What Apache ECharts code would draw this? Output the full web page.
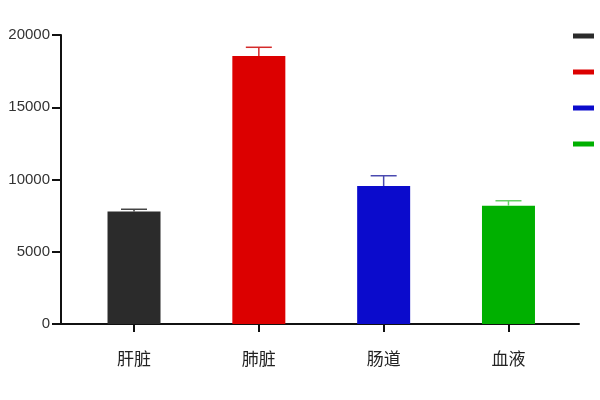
<!DOCTYPE html>
<html>
<head>
<meta charset="utf-8">
<script src="https://cdn.jsdelivr.net/npm/echarts@6/dist/echarts.min.js"></script>
<style>
html, body { margin: 0; padding: 0; background: #fff; }
#chart { width: 600px; height: 400px; }
</style>
</head>
<body>
<div id="chart"></div>
<script>
// 数据
var categories = ['肝脏', '肺脏', '肠道', '血液'];
var means = [7780, 18550, 9550, 8190];
var errors = [160, 600, 710, 340];
var barColors = ['#2b2b2b', '#dc0000', '#0b0bcc', '#00b000'];
var capColors = ['#444444', '#d42a2a', '#4a4ab0', '#66d066'];
var yTicks = [0, 5000, 10000, 15000, 20000];

var myChart = echarts.init(document.getElementById('chart'));

var series = [];
for (var i = 0; i < categories.length; i++)
{
    series.push({
        name: categories[i],
        type: 'bar',
        barWidth: 53,
        barGap: '-100%',
        itemStyle: { color: barColors[i] },
        data: [[i, means[i]]]
    });
}

var errData = [];
for (var j = 0; j < categories.length; j++)
{
    errData.push([j, means[j], means[j] + errors[j]]);
}

series.push({
    name: 'err',
    type: 'custom',
    z: 5,
    data: errData,
    renderItem: function (params, api)
    {
        var x = api.value(0);
        var lo = api.coord([x, api.value(1)]);
        var hi = api.coord([x, api.value(2)]);
        var half = 13;
        var c = capColors[params.dataIndex];
        return {
            type: 'group',
            children: [{
                type: 'line',
                shape: { x1: hi[0], y1: lo[1], x2: hi[0], y2: hi[1] },
                style: { stroke: c, lineWidth: 1.5 }
            }, {
                type: 'line',
                shape: { x1: hi[0] - half, y1: hi[1], x2: hi[0] + half, y2: hi[1] },
                style: { stroke: c, lineWidth: 1.5 }
            }]
        };
    }
});

var option = {
    backgroundColor: '#fff',
    animation: false,
    textStyle: { fontFamily: '"Liberation Sans", "Noto Sans CJK SC", sans-serif' },
    legend: {
        data: categories,
        orient: 'vertical',
        left: 568,
        top: 25,
        icon: 'rect',
        itemWidth: 21,
        itemHeight: 5,
        itemGap: 24,
        // 图例文字在画布右侧之外
        textStyle: { fontSize: 12, color: '#333', padding: [0, 0, 0, 12] }
    },
    grid: {
        left: 61,
        right: 21,
        top: 35,
        bottom: 76
    },
    xAxis: {
        type: 'value',
        min: -0.585,
        max: 3.565,
        splitLine: { show: false },
        axisLine: { show: true, onZero: false, lineStyle: { color: '#111', width: 2 } },
        axisTick: {
            show: true,
            length: 8,
            customValues: [0, 1, 2, 3],
            lineStyle: { color: '#111', width: 2 }
        },
        axisLabel: {
            customValues: [0, 1, 2, 3],
            margin: 26,
            fontSize: 17,
            color: '#222',
            fontFamily: '"Noto Sans CJK SC", sans-serif',
            formatter: function (v)
            {
                return categories[Math.round(v)];
            }
        }
    },
    yAxis: {
        type: 'value',
        min: yTicks[0],
        max: yTicks[yTicks.length - 1],
        interval: 5000,
        splitLine: { show: false },
        axisLine: { show: true, onZero: false, lineStyle: { color: '#111', width: 2 } },
        axisTick: { show: true, length: 9, lineStyle: { color: '#111', width: 2 } },
        axisLabel: {
            fontSize: 15,
            color: '#333',
            margin: 11,
            formatter: function (v)
            {
                return String(v);
            }
        }
    },
    series: series
};

myChart.setOption(option);
</script>
</body>
</html>
